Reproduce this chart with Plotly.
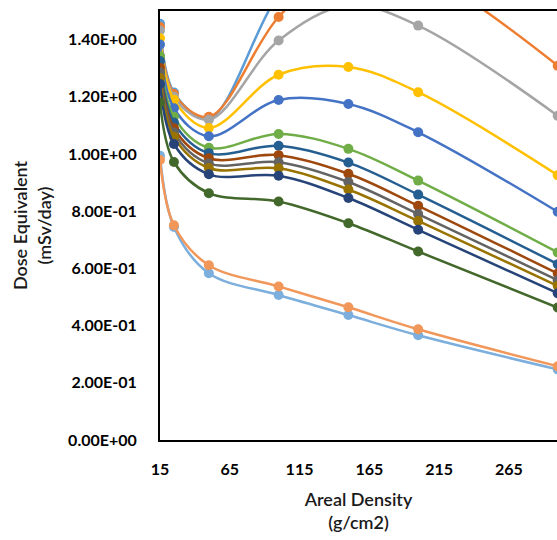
import plotly.graph_objects as go

# Areal density (g/cm2)
areal_density = [15, 25, 50, 100, 150, 200, 300]

# Dose equivalent (mSv/day) per series
s01 = [1.455, 1.215, 1.125, 1.56, 1.84, 1.82, 1.55]
s02 = [1.444, 1.210, 1.130, 1.479, 1.68, 1.64, 1.309]
s03 = [1.432, 1.200, 1.120, 1.397, 1.52, 1.449, 1.134]
s04 = [1.405, 1.190, 1.091, 1.277, 1.304, 1.216, 0.926]
s05 = [1.383, 1.160, 1.062, 1.189, 1.175, 1.076, 0.798]
s06 = [1.342, 1.130, 1.022, 1.070, 1.018, 0.907, 0.656]
s07 = [1.325, 1.110, 1.003, 1.029, 0.970, 0.858, 0.615]
s08 = [1.301, 1.090, 0.985, 0.996, 0.931, 0.819, 0.582]
s09 = [1.286, 1.075, 0.967, 0.971, 0.902, 0.790, 0.559]
s10 = [1.266, 1.060, 0.951, 0.950, 0.876, 0.766, 0.539]
s11 = [1.245, 1.035, 0.929, 0.924, 0.846, 0.735, 0.513]
s12 = [1.180, 0.972, 0.863, 0.834, 0.758, 0.659, 0.463]
s13 = [0.994, 0.745, 0.583, 0.507, 0.437, 0.366, 0.247]
s14 = [0.979, 0.751, 0.611, 0.537, 0.464, 0.387, 0.258]

series = [s01, s02, s03, s04, s05, s06, s07, s08, s09, s10, s11, s12, s13, s14]
colors = ["#5B9BD5", "#ED7D31", "#A5A5A5", "#FFC000", "#4472C4", "#70AD47",
          "#255E91", "#9E480E", "#636363", "#997300", "#264478", "#43682B",
          "#7CAFDD", "#F1975A"]

y_tickvals = [0, 0.2, 0.4, 0.6, 0.8, 1.0, 1.2, 1.4]
y_ticktext = ["0.00E+00", "2.00E-01", "4.00E-01", "6.00E-01", "8.00E-01",
              "1.00E+00", "1.20E+00", "1.40E+00"]

fig = go.Figure()
for vals, col in zip(series, colors):
    fig.add_trace(go.Scatter(
        x=areal_density, y=vals, mode="lines+markers",
        line=dict(color=col, width=2.5, shape="spline", smoothing=1),
        marker=dict(color=col, size=10, symbol="circle"),
        showlegend=False,
    ))

fontfam = "Lato, 'Open Sans', sans-serif"
fig.update_layout(
    width=557, height=540,
    margin=dict(l=160, r=0, t=11, b=99.5, pad=0),
    paper_bgcolor="white", plot_bgcolor="white",
    font=dict(family=fontfam, color="#000000"),
    xaxis=dict(
        range=[15, 299.5], tick0=15, dtick=50, tickmode="linear",
        showgrid=False, zeroline=False,
        showline=True, linecolor="#000000", linewidth=2, mirror=True,
        ticks="", ticklabelstandoff=14,
        tickfont=dict(size=16, weight="bold", family=fontfam, color="#000000"),
        title=dict(text="Areal Density<br>(g/cm2)", standoff=16,
                   font=dict(size=18, weight=600, family=fontfam, color="#1a1a1a")),
    ),
    yaxis=dict(
        range=[0, 1.5], tickmode="array", tickvals=y_tickvals, ticktext=y_ticktext,
        showgrid=False, zeroline=False,
        showline=True, linecolor="#000000", linewidth=2,
        ticks="", ticklabelstandoff=18,
        tickfont=dict(size=16, weight="bold", family=fontfam, color="#000000"),
        title=dict(text="Dose Equivalent<br>(mSv/day)", standoff=12,
                   font=dict(size=18, weight=600, family=fontfam, color="#1a1a1a")),
    ),
)

fig.write_html("out.html")
